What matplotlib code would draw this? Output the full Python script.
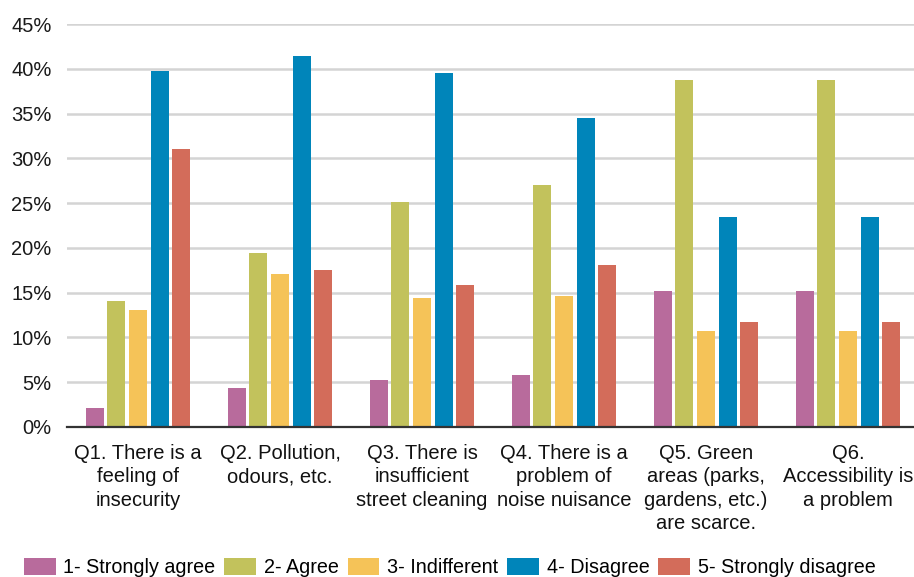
import numpy as np
import matplotlib.pyplot as plt

plt.rcParams['font.family'] = ['Liberation Sans', 'DejaVu Sans']

questions = [
    "Q1. There is a\nfeeling of\ninsecurity",
    "Q2. Pollution,\nodours, etc.",
    "Q3. There is\ninsufficient\nstreet cleaning",
    "Q4. There is a\nproblem of\nnoise nuisance",
    "Q5. Green\nareas (parks,\ngardens, etc.)\nare scarce.",
    "Q6.\nAccessibility is\na problem",
]
answers = ["1- Strongly agree", "2- Agree", "3- Indifferent",
           "4- Disagree", "5- Strongly disagree"]

strongly_agree = [2.1, 4.4, 5.3, 5.8, 15.2, 15.2]
agree = [14.1, 19.4, 25.1, 27.0, 38.8, 38.8]
indifferent = [13.1, 17.1, 14.4, 14.6, 10.7, 10.7]
disagree = [39.7, 41.4, 39.5, 34.5, 23.5, 23.5]
strongly_disagree = [31.0, 17.5, 15.8, 18.1, 11.7, 11.7]

series = [strongly_agree, agree, indifferent, disagree, strongly_disagree]
colors = ["#B86B9C", "#C2C25C", "#F5C358", "#0085BA", "#D36C5A"]

fig = plt.figure(figsize=(9.14, 5.77), dpi=100)
ax = fig.add_axes([0.0733, 0.26, 0.9267, 0.6984])

x = np.arange(len(questions))
step = 0.153
for i, (vals, col, name) in enumerate(zip(series, colors, answers)):
    ax.bar(x + (i - 2) * step, vals, width=0.127, color=col, label=name, zorder=3)

fs = 14.5
ax.set_ylim(0, 45)
ax.set_xlim(-0.5, 5.465)
ax.set_yticks(range(0, 46, 5))
ax.set_yticklabels([f"{v}%" for v in range(0, 46, 5)], fontsize=fs, color="#1a1a1a")
ax.set_xticks(x)
ax.set_xticklabels(questions, fontsize=fs, color="#111111", linespacing=1.3, va="top")
ax.tick_params(axis="both", length=0)
ax.tick_params(axis="y", pad=11)
ax.tick_params(axis="x", pad=12)

ax.grid(axis="y", color="#D4D4D4", linewidth=1.8, zorder=0)
for side in ["top", "right", "left"]:
    ax.spines[side].set_visible(False)
ax.spines["bottom"].set_color("#333333")
ax.spines["bottom"].set_linewidth(1.6)
ax.spines["bottom"].set_zorder(4)

fig.legend(loc="center", bbox_to_anchor=(0.492, 0.016), ncol=5, frameon=False,
           fontsize=14.2, handlelength=1.6, handleheight=0.9,
           handletextpad=0.4, columnspacing=0.45, borderpad=0)

fig.savefig("out.png", dpi=100)
